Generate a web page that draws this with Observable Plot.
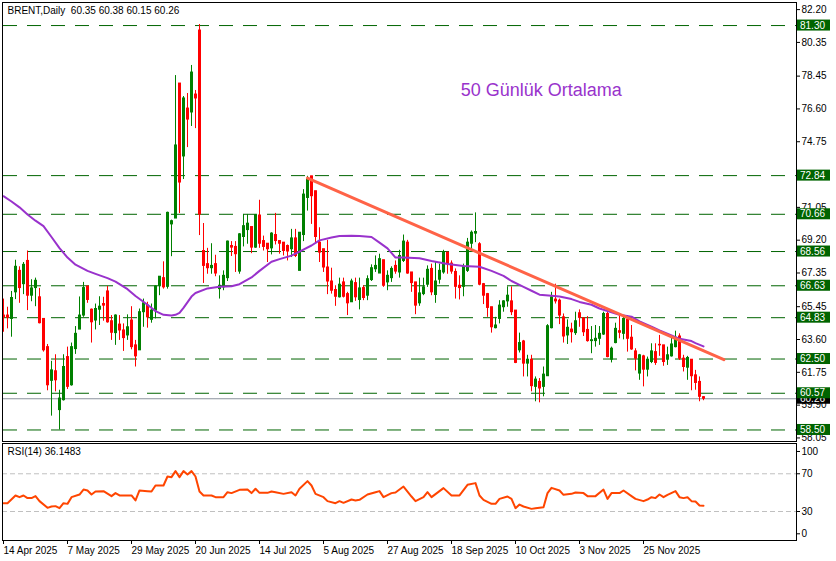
<!DOCTYPE html>
<html><head><meta charset="utf-8">
<script src="https://cdn.jsdelivr.net/npm/d3@7"></script>
<script src="https://cdn.jsdelivr.net/npm/@observablehq/plot@0.6"></script>
<style>
body{margin:0;background:#fff;}
#wrap{position:relative;width:836px;height:561px;overflow:hidden;background:#fff;}
#wrap svg{position:absolute;left:0;}
</style></head><body><div id="wrap"></div>
<script>
// ---- Data ----
const opens = [64.95,64.95,64.76,66.26,67.47,66.72,68.03,66.07,66.50,65.98,64.76,63.17,61.27,61.81,59.62,60.18,62.61,61.02,63.06,64.16,
64.95,66.59,65.28,64.67,65.28,65.60,66.31,64.63,63.96,64.44,64.11,63.83,64.67,63.27,62.99,65.14,65.51,64.71,65.23,66.63,
67.06,66.57,70.09,70.42,78.03,73.92,76.62,76.40,77.41,81.02,68.59,67.85,67.62,67.85,66.44,66.54,67.06,68.87,68.82,67.43,
69.38,69.77,69.94,68.78,70.59,69.15,69.00,68.74,69.49,69.15,69.06,68.87,68.69,69.30,67.47,69.49,71.58,72.80,71.96,69.06,
68.69,67.66,66.87,66.39,65.98,66.82,66.16,65.70,66.78,65.83,66.50,66.07,66.95,67.56,67.32,68.07,66.82,67.06,67.75,67.38,
68.03,69.06,67.38,66.82,65.64,66.16,66.69,67.58,66.11,66.97,67.38,68.50,67.88,67.41,66.63,66.57,67.47,69.00,69.57,68.97,
66.72,66.16,65.42,64.24,64.76,65.42,65.75,65.75,65.23,62.99,63.49,62.24,62.46,60.93,61.21,60.93,61.53,64.24,65.85,65.79,
64.85,63.83,64.16,63.96,65.08,64.80,64.14,63.51,63.51,63.64,63.88,65.04,62.46,63.40,64.07,63.92,64.71,63.70,62.93,61.68,
62.65,61.90,62.33,62.89,63.30,63.27,62.46,62.65,63.17,63.77,62.52,62.01,62.46,61.58,61.21,60.35];
const highs = [65.88,65.42,66.31,68.07,67.70,67.94,68.59,66.97,67.06,66.48,64.76,63.32,62.37,62.74,60.74,62.74,63.17,63.40,64.33,66.00,
66.82,66.59,65.32,65.60,66.01,65.98,66.59,64.95,64.99,64.95,64.48,64.99,65.45,63.55,65.32,65.88,65.70,65.60,66.63,67.14,
67.98,70.78,70.33,78.48,78.03,77.30,77.47,79.05,77.64,81.36,70.14,68.74,69.00,68.35,67.19,67.47,69.15,69.12,69.12,69.57,
70.65,70.65,69.94,70.65,71.45,69.43,69.00,69.62,70.71,69.15,69.06,68.93,69.81,69.81,69.62,72.05,72.80,72.80,71.96,69.90,
68.69,69.19,67.62,66.63,67.06,67.06,66.26,67.00,67.06,67.06,66.63,67.19,67.81,68.31,68.41,68.07,67.47,67.70,68.03,68.63,
69.49,69.19,67.38,66.82,67.06,67.06,67.75,67.85,67.94,67.85,68.63,68.50,68.03,67.58,67.19,67.85,69.30,69.72,70.74,69.06,
66.76,66.20,65.42,64.85,65.79,65.79,66.57,66.57,65.23,63.96,63.55,62.71,62.71,61.49,61.40,62.05,64.44,66.26,66.72,65.88,
65.04,64.71,64.52,65.14,65.27,64.80,64.89,64.33,64.39,64.33,65.14,65.14,63.17,64.52,64.95,64.95,64.95,64.39,63.08,62.76,
62.71,62.61,63.36,63.36,63.83,63.27,63.17,63.70,64.07,63.92,62.71,62.65,62.46,61.86,61.49,60.38];
const lows = [64.01,64.20,63.73,65.85,65.64,66.13,65.23,65.73,65.45,64.48,62.89,60.71,59.28,60.65,58.50,60.13,60.78,60.97,62.76,64.16,
64.85,65.64,63.40,64.14,64.39,64.63,64.52,63.55,63.27,63.55,62.93,63.55,63.02,62.05,62.99,64.29,64.24,64.52,64.76,66.07,
66.44,66.44,68.27,70.42,70.70,72.62,74.42,75.61,75.49,69.46,66.76,67.28,67.28,67.14,65.88,66.35,66.87,68.28,67.38,67.28,
68.82,68.97,68.44,68.74,68.74,68.59,67.94,68.37,68.93,68.41,68.31,68.03,68.22,68.22,67.47,69.12,70.84,70.09,69.06,67.94,
67.38,66.13,66.16,65.47,65.94,65.94,64.95,65.70,65.75,65.27,65.79,65.79,66.87,67.38,67.32,66.54,66.35,66.82,67.28,67.06,
67.94,67.28,66.26,65.00,65.47,66.07,66.54,66.07,65.64,66.72,67.28,67.28,67.28,65.88,65.83,66.01,67.38,68.59,69.06,66.63,
65.57,64.85,63.96,64.20,64.48,65.14,65.42,64.95,62.24,62.84,61.49,61.49,60.65,60.09,60.03,60.37,61.53,64.20,65.60,64.44,
63.40,63.32,63.40,63.83,64.29,63.77,63.45,62.80,63.17,63.27,63.83,62.57,62.28,63.36,63.64,63.58,62.89,62.99,61.83,61.30,
60.93,61.49,62.24,62.14,62.65,62.09,62.14,62.61,63.13,62.42,61.77,61.30,60.71,60.74,60.09,60.15];
const closes = [64.85,64.82,65.94,67.70,66.50,67.81,66.07,66.48,66.91,64.52,62.99,61.02,61.86,61.30,60.27,62.05,60.93,63.17,63.92,64.95,
66.50,65.83,64.57,65.32,65.45,65.51,64.57,63.98,64.95,64.11,63.68,64.29,63.17,62.65,65.14,65.64,64.85,65.23,66.59,67.14,
66.54,70.74,70.27,74.54,72.45,77.19,76.00,78.65,77.19,70.65,67.75,67.62,67.75,67.32,66.63,67.19,69.12,68.78,68.41,69.53,
69.99,70.13,68.78,70.61,69.00,68.82,68.69,69.57,69.15,69.00,68.59,68.56,69.30,68.31,69.62,71.77,72.61,71.68,69.38,68.50,
67.66,66.87,66.35,66.01,66.69,66.01,65.64,66.87,65.98,66.48,65.94,67.00,67.62,67.75,68.13,66.63,67.19,67.58,67.43,68.31,
69.12,67.32,66.78,65.51,66.20,66.54,67.53,66.26,66.87,67.47,68.50,67.85,67.43,66.57,66.50,67.70,69.06,69.62,69.66,66.69,
66.07,65.38,64.29,64.39,65.51,65.75,66.07,65.14,62.28,63.40,62.24,62.46,60.97,61.34,60.84,61.62,64.35,65.98,65.75,64.95,
63.77,64.26,64.01,64.63,64.82,64.01,63.51,63.56,63.64,63.92,65.04,62.61,63.08,64.20,63.98,64.76,63.64,63.04,62.52,62.71,
61.90,62.46,62.93,62.28,63.27,62.33,62.71,63.32,63.70,62.52,62.05,62.56,61.53,61.15,60.37,60.26];

// 50-day moving average (purple) read at sample bars
const maBars = [0,2,4,6,8,10,12,14,16,18,21,23,26,28,31,33,36,38,40,42,43,44,45,47,48,51,54,57,59,62,64,67,69,72,74,77,79,82,84,87,89,92,94,96,98,100,104,107,111,115,119,122,125,127,130,132,134,137,139,142,144,147,149,152,154,157,159,162,164,167,169,172,173,175];
const maValues = [71.68,71.38,71.05,70.65,70.30,69.99,69.38,68.75,68.22,67.82,67.47,67.30,67.06,66.86,66.44,66.05,65.56,65.20,64.99,64.95,64.99,65.10,65.38,66.02,66.22,66.48,66.57,66.60,66.72,67.10,67.47,67.98,68.13,68.33,68.56,68.90,69.19,69.35,69.43,69.45,69.43,69.38,69.06,68.74,68.22,68.22,68.18,68.03,67.86,67.75,67.70,67.47,67.19,66.90,66.57,66.35,66.13,66.07,66.03,65.88,65.72,65.56,65.35,65.14,65.00,64.89,64.62,64.33,64.11,63.83,63.64,63.51,63.40,63.21];

// RSI(14) read at sample bars
const rsiBars = [0,1,3,4,5,6,7,8,9,11,12,13,14,15,16,17,19,20,21,22,23,25,27,28,29,31,32,33,34,36,37,38,40,41,42,43,44,45,46,47,48,49,50,52,53,55,56,57,59,61,62,63,64,66,67,68,70,72,73,74,76,77,78,80,81,83,84,85,87,88,89,91,93,94,95,97,98,100,102,103,105,106,107,110,112,114,116,118,119,120,122,123,124,126,127,128,129,130,132,133,135,136,137,139,140,142,143,145,146,148,150,151,152,154,155,157,158,160,161,162,163,164,165,166,168,169,170,171,172,173,174,175];
const rsiValues = [38.8,38.8,47.0,45.2,47.0,44.2,44.2,46.3,41.0,33.9,35.3,35.7,33.5,38.8,38.1,45.2,48.0,53.3,52.3,48.0,51.2,51.6,46.3,49.5,47.0,47.0,47.0,41.7,52.3,51.6,51.2,57.6,57.6,67.1,66.4,72.8,66.4,72.8,69.3,72.8,67.1,51.2,47.0,47.0,45.2,45.2,50.5,49.5,53.0,53.3,49.5,54.1,49.8,49.8,51.2,50.5,48.7,50.5,47.0,54.1,62.2,57.6,48.7,45.2,41.0,38.8,41.0,39.2,42.7,41.7,42.4,48.0,50.5,51.6,45.2,49.5,50.2,56.5,45.9,41.0,45.2,50.5,45.2,54.8,47.0,47.0,58.3,60.1,47.0,42.4,38.1,38.1,43.4,45.9,43.4,33.5,37.4,35.3,32.8,33.5,34.6,49.5,55.1,52.3,47.7,48.7,50.2,49.5,46.3,46.3,53.3,43.4,49.5,49.5,52.3,46.3,43.4,41.0,42.7,45.2,44.2,48.0,45.2,47.7,51.6,45.2,44.2,45.2,41.0,40.6,36.4,36.15];

// Horizontal levels, current price, trend line
const levels = [81.30,72.84,70.66,68.56,66.63,64.83,62.50,60.57,58.50];
const currentPrice = 60.26;
const trendBars = [76,180.1];
const trendPrices = [72.70,62.46];

// Axis ticks and labels
const priceTicks = [82.20,80.35,78.45,76.60,74.75,71.05,69.20,67.35,65.45,63.60,61.75,59.90,58.05];
const rsiTicks = [30,70];
const dateBars = [0,16,32,48,64,80,96,112,128,144,160];
const dateLabels = ["14 Apr 2025","7 May 2025","29 May 2025","20 Jun 2025","14 Jul 2025","5 Aug 2025","27 Aug 2025","18 Sep 2025","10 Oct 2025","3 Nov 2025","25 Nov 2025"];

const headerText = "BRENT,Daily  60.35 60.38 60.15 60.26";
const rsiText = "RSI(14) 36.1483";
const noteText = ["50 Günlük Ortalama"];
const noteBar = 114.3, notePrice = 77.64;

// ---- Build ----
const FONT = "'Liberation Sans', Arial, sans-serif";
const candles = opens.map((o, i) => ({i, o, h: highs[i], l: lows[i], c: closes[i]}));
const col = d => d.c >= d.o ? "#008000" : "#ff0000";
const ma = maBars.map((b, k) => ({b, v: maValues[k]}));
const rsi = rsiBars.map((b, k) => ({b, v: rsiValues[k]}));
const trend = trendBars.map((b, k) => ({b, v: trendPrices[k]}));
const xDomain = [-0.25, 198.25];

const main = Plot.plot({
  width: 836, height: 442,
  marginLeft: 2, marginRight: 40, marginTop: 2, marginBottom: 1,
  x: {domain: xDomain, axis: null},
  y: {domain: [57.85, 82.60]},
  style: {fontFamily: FONT, fontSize: "10px", background: "transparent", color: "#000", overflow: "visible"},
  marks: [
    Plot.ruleY(levels, {stroke: "#006400", strokeWidth: 1, strokeDasharray: "14,10", strokeDashoffset: -1}),
    Plot.ruleY([currentPrice], {stroke: "#8a929c", strokeWidth: 1}),
    Plot.ruleX(candles, {x: "i", y1: "l", y2: "h", stroke: col, strokeWidth: 1}),
    Plot.rect(candles, {x1: d => d.i - 0.25, x2: d => d.i + 0.5, y1: "o", y2: "c", fill: col, insetTop: -0.5, insetBottom: -0.5}),
    Plot.line(ma, {x: "b", y: "v", stroke: "#9932cc", strokeWidth: 2, curve: "linear"}),
    Plot.line(trend, {x: "b", y: "v", stroke: "#ff6347", strokeWidth: 3}),
    Plot.axisY({anchor: "right", ticks: priceTicks, tickFormat: d => d.toFixed(2), tickSize: 3, tickPadding: 2, fontSize: 10, label: null}),
    Plot.frame({stroke: "#000"}),
    Plot.text([headerText], {frameAnchor: "top-left", dx: 5, dy: 4, lineAnchor: "top", textAnchor: "start", fontSize: 10, fill: "#000"}),
    Plot.text(noteText, {x: () => noteBar, y: () => notePrice, textAnchor: "start", lineAnchor: "middle", fontSize: 18, fill: "#9933cc"})
  ]
});

// Price-level label boxes on the right axis, placed with the plot's own y scale
const ysc = main.scale("y");
const g = d3.select(main).append("g")
  .attr("font-family", FONT).attr("font-size", 10).attr("text-anchor", "start");
function labelBox(v, fill) {
  const y = ysc.apply(v);
  g.append("rect").attr("x", 797).attr("y", y - 5.5).attr("width", 33).attr("height", 11).attr("fill", fill);
  g.append("text").attr("x", 800).attr("y", y).attr("dy", "0.36em")
    .attr("text-anchor", "start").attr("fill", "#fff").text(v.toFixed(2));
}
labelBox(currentPrice, "#000");
levels.forEach(v => labelBox(v, "#006400"));

const rsiPlot = Plot.plot({
  width: 836, height: 119,
  marginLeft: 2, marginRight: 40, marginTop: 1, marginBottom: 21,
  x: {domain: xDomain},
  y: {domain: [-0.74, 102.1]},
  style: {fontFamily: FONT, fontSize: "10px", background: "transparent", color: "#000", overflow: "visible"},
  marks: [
    Plot.ruleY(rsiTicks, {stroke: "#c0c0c0", strokeDasharray: "5,3"}),
    Plot.line(rsi, {x: "b", y: "v", stroke: "#ff4500", strokeWidth: 2}),
    Plot.axisY({anchor: "right", ticks: rsiTicks, tickSize: 3, tickPadding: 2, fontSize: 10, label: null}),
    Plot.axisY({anchor: "right", ticks: [100], tickSize: 3, tickPadding: 2, fontSize: 10, dy: 6, label: null}),
    Plot.axisY({anchor: "right", ticks: [0], tickSize: 3, tickPadding: 2, fontSize: 10, dy: -6, label: null}),
    Plot.axisX({anchor: "bottom", ticks: dateBars, tickFormat: d => dateLabels[dateBars.indexOf(d)], textAnchor: "start", tickSize: 4, tickPadding: 2, fontSize: 10, label: null}),
    Plot.frame({stroke: "#000"}),
    Plot.text([rsiText], {frameAnchor: "top-left", dx: 5, dy: 4, lineAnchor: "top", textAnchor: "start", fontSize: 10, fill: "#000"})
  ]
});

const wrap = document.getElementById("wrap");
main.style.top = "0px";
rsiPlot.style.top = "442px";
wrap.appendChild(main);
wrap.appendChild(rsiPlot);
</script>
</body></html>
